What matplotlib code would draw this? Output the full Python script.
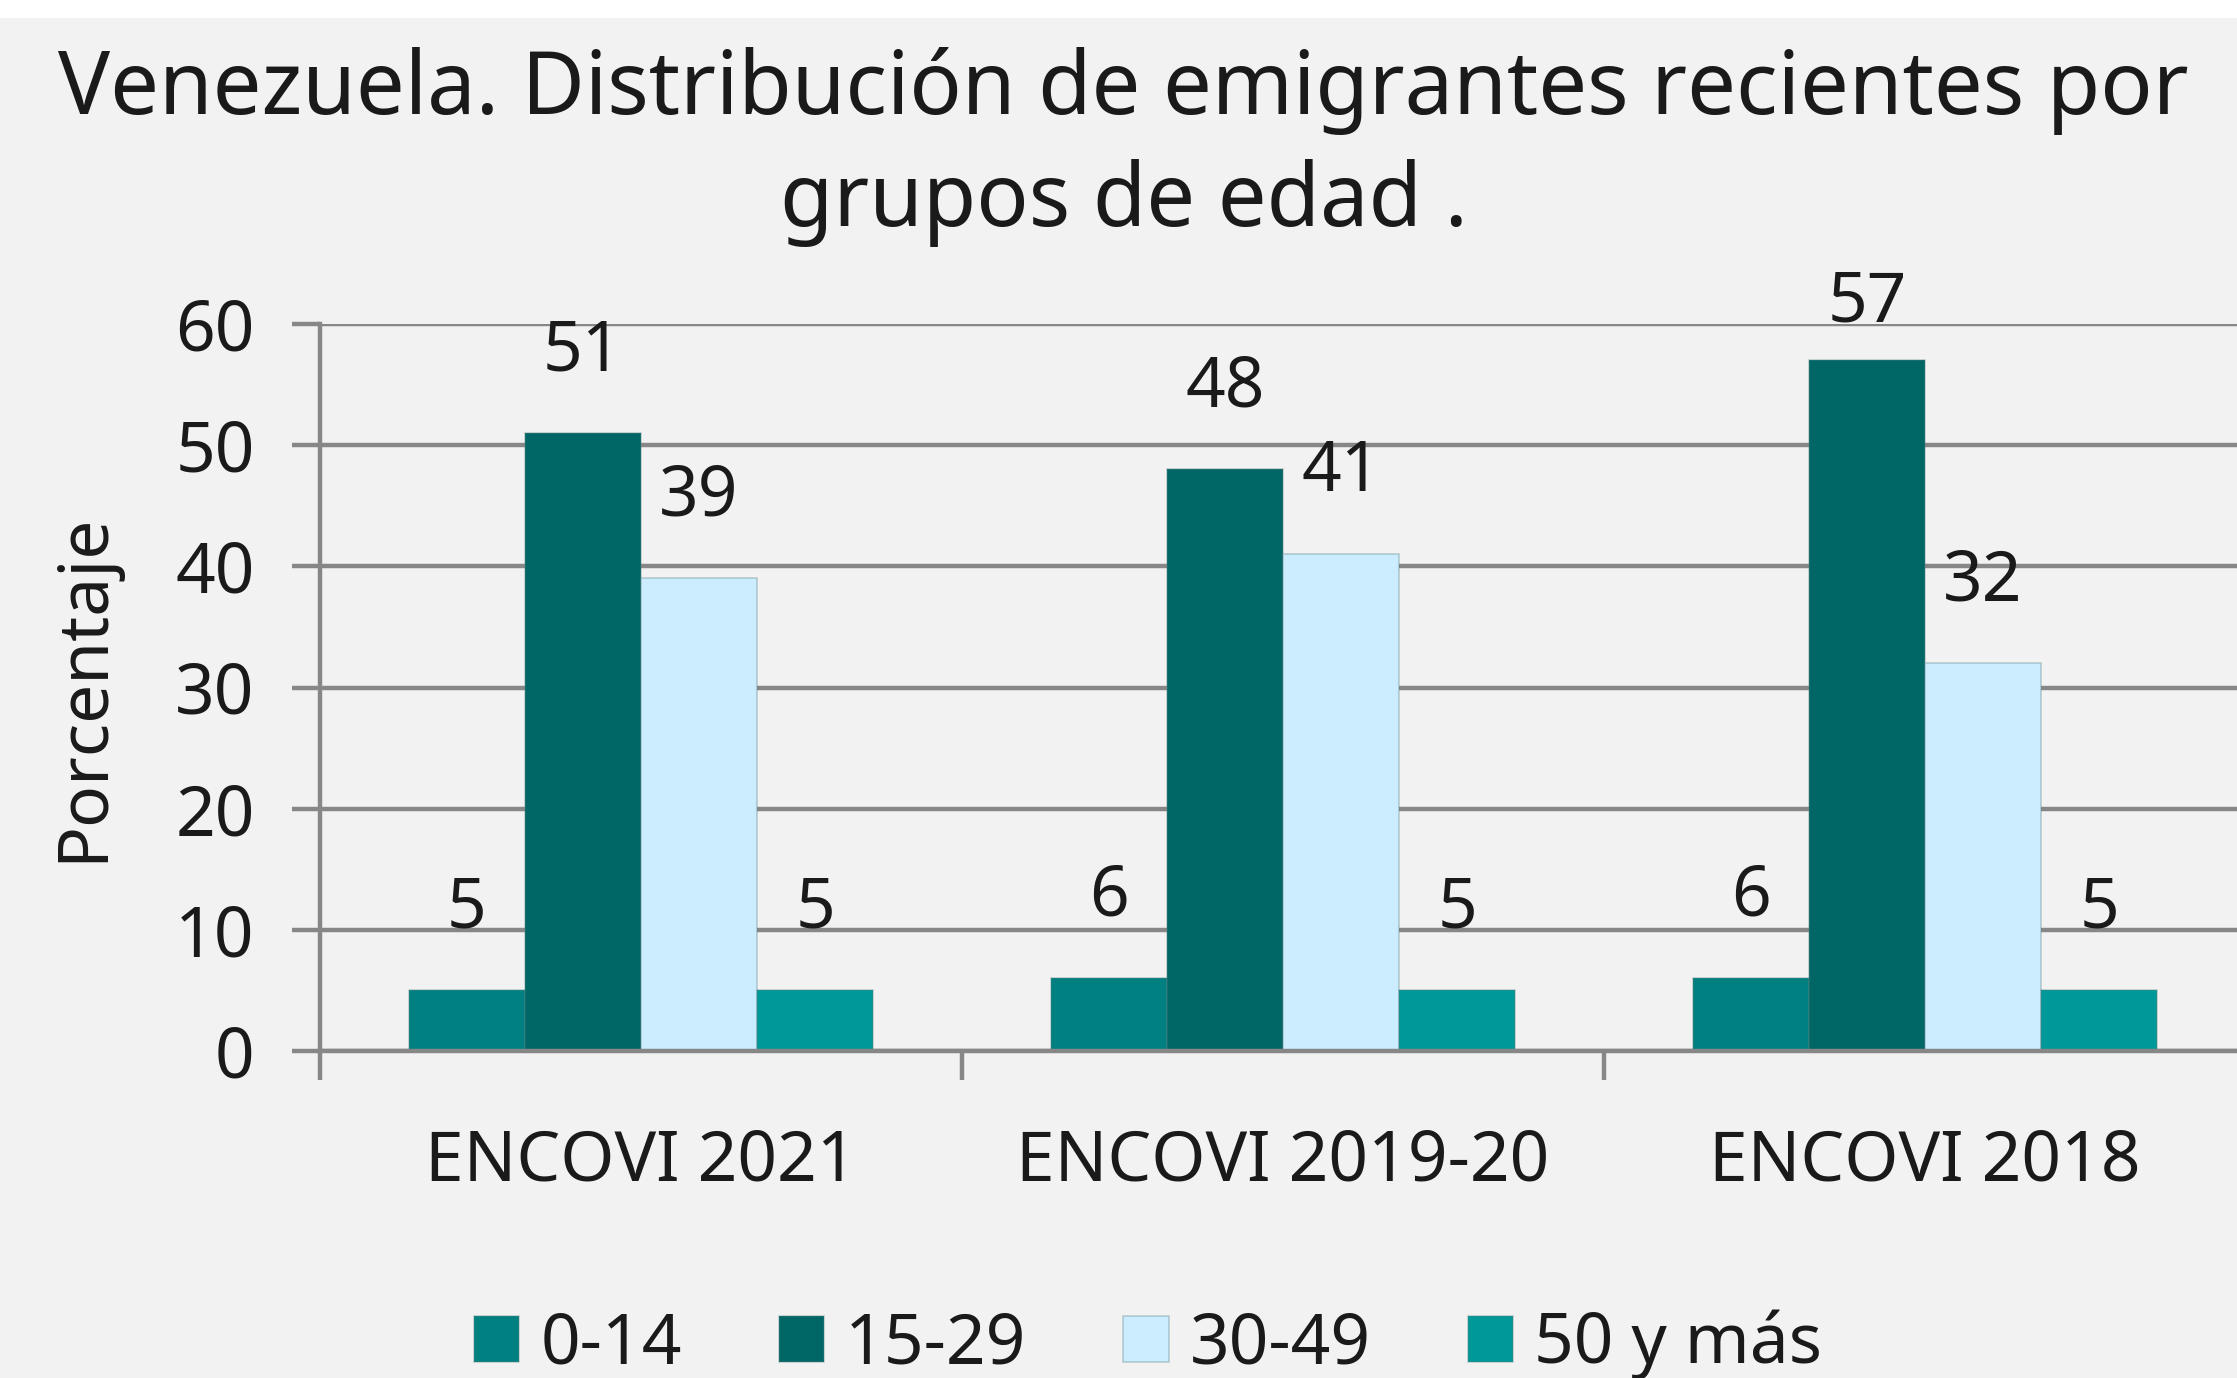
import matplotlib
matplotlib.use("Agg")
import matplotlib.pyplot as plt
import numpy as np
from matplotlib.patches import Rectangle

plt.rcParams['font.family'] = ['Noto Sans', 'DejaVu Sans']

title = "Venezuela. Distribución de emigrantes recientes por\ngrupos de edad ."
categories = ["ENCOVI 2021", "ENCOVI 2019-20", "ENCOVI 2018"]
series_names = ["0-14", "15-29", "30-49", "50 y más"]
values_0_14 = [5, 6, 6]
values_15_29 = [51, 48, 57]
values_30_49 = [39, 41, 32]
values_50 = [5, 5, 5]
series_values = [values_0_14, values_15_29, values_30_49, values_50]
colors = ["#008080", "#006666", "#CCECFF", "#009999"]
y_ticks = [0, 10, 20, 30, 40, 50, 60]

BG = "#F2F2F2"
GRID = "#878787"
TXT = "#1a1a1a"

W, H = 2237, 1378
fig = plt.figure(figsize=(W / 100, H / 100), dpi=100, facecolor=BG)
fig.patches.append(Rectangle((0, 1 - 18 / H), 1, 18 / H, transform=fig.transFigure,
                             facecolor="white", edgecolor="none", zorder=-1))

left, right = 320 / W, 2246 / W
bottom, top = 1 - 1051 / H, 1 - 324 / H
ax = fig.add_axes([left, bottom, right - left, top - bottom])
ax.set_facecolor(BG)

x = np.arange(len(categories))
bw = 0.181
n = len(series_names)
for i, (name, vals, col) in enumerate(zip(series_names, series_values, colors)):
    pos = x + (i - (n - 1) / 2) * bw
    ax.bar(pos, vals, width=bw, color=col, label=name, zorder=3,
           edgecolor=(0.35, 0.5, 0.5, 0.35), linewidth=1.2)
    for px_, v in zip(pos, vals):
        yb = min(v + 3.8, 58.8)
        ax.text(px_, yb, f"{v}", ha="center", va="bottom", fontsize=50,
                color=TXT, zorder=4)

ax.set_xlim(-0.5, len(categories) - 0.5)
ax.set_ylim(0, 60)
ax.set_yticks(y_ticks)
ax.set_yticklabels([str(t) for t in y_ticks], fontsize=50, color=TXT)
ax.yaxis.grid(True, color=GRID, linewidth=3.2, zorder=1)
ax.set_axisbelow(True)

ax.set_xticks(np.arange(len(categories) + 1) - 0.5)
ax.set_xticklabels([])
ax.set_xticks(x, minor=True)
ax.set_xticklabels(categories, minor=True, fontsize=50, color=TXT)
ax.tick_params(axis="x", which="major", length=21, width=3.2, color=GRID, direction="out")
ax.tick_params(axis="x", which="minor", length=0, pad=55)
ax.tick_params(axis="y", length=20, width=3.2, color=GRID, pad=27)

for s in ["top", "right"]:
    ax.spines[s].set_visible(False)
for s in ["left", "bottom"]:
    ax.spines[s].set_color(GRID)
    ax.spines[s].set_linewidth(3.2)
    ax.spines[s].set_zorder(5)

ax.set_ylabel("Porcentaje", fontsize=50, color=TXT)
ax.yaxis.set_label_coords(-(320 - 119) / (2246 - 320), 0.5)

fig.text(0.5 * (35 + 1540) / 1568, 1 - 147 / H, title, ha="center", va="center",
         fontsize=62.5, color=TXT, linespacing=1.36)

leg = fig.legend(loc="center", bbox_to_anchor=(1148 / W, 1 - 1345 / H), ncol=4,
                 frameon=False, fontsize=50, handlelength=0.65, handleheight=0.65,
                 handletextpad=0.3, columnspacing=1.4, labelcolor=TXT)

fig.savefig("out.png", dpi=100, facecolor=BG)
